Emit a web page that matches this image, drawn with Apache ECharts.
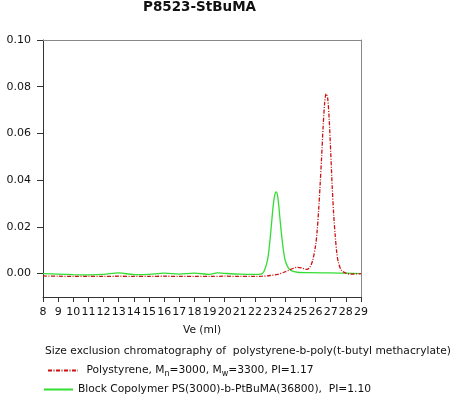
<!DOCTYPE html>
<html>
<head>
<meta charset="utf-8">
<script src="https://cdn.jsdelivr.net/npm/echarts@6/dist/echarts.min.js"></script>
<style>
  html, body { margin: 0; padding: 0; background: #fff; }
  #chart { width: 459px; height: 397px; }
</style>
</head>
<body>
<div id="chart"></div>
<script>
// elution volume (ml) and detector response
const psVe = [8, 9, 10, 11, 12, 13, 14, 15, 16, 17, 18, 19, 20, 21, 22, 22.5, 23, 23.5, 24, 24.5, 24.8, 25.1, 25.4, 25.6, 25.8, 26.0, 26.1, 26.2, 26.3, 26.4, 26.5, 26.6, 26.7, 26.8, 26.9, 27.0, 27.1, 27.2, 27.3, 27.4, 27.5, 27.7, 28.0, 28.3, 29]
const psResp = [-0.0010, -0.0011, -0.0012, -0.0012, -0.0012, -0.0011, -0.0012, -0.0012, -0.0011, -0.0012, -0.0012, -0.0012, -0.0011, -0.0012, -0.0012, -0.0011, -0.0008, -0.0003, 0.0008, 0.0022, 0.0027, 0.0024, 0.0018, 0.0025, 0.0055, 0.012, 0.018, 0.027, 0.038, 0.050, 0.063, 0.073, 0.077, 0.075, 0.066, 0.052, 0.037, 0.025, 0.016, 0.009, 0.005, 0.0015, 0.0002, -0.0002, 0.0000]

const bcVe = [8, 9, 10, 11, 12, 13, 14, 15, 16, 17, 18, 19, 19.5, 20, 21, 22, 22.4, 22.6, 22.8, 22.9, 23.0, 23.1, 23.2, 23.3, 23.4, 23.5, 23.6, 23.7, 23.8, 23.9, 24.0, 24.2, 24.4, 24.8, 25.5, 27, 28, 29]
const bcResp = [0.0000, -0.0002, -0.0004, -0.0005, -0.0003, 0.0003, -0.0004, -0.0003, 0.0002, -0.0002, 0.0002, -0.0003, 0.0003, 0.0001, -0.0002, -0.0003, -0.0002, 0.0010, 0.0050, 0.0090, 0.015, 0.022, 0.029, 0.0335, 0.035, 0.033, 0.027, 0.020, 0.014, 0.009, 0.0055, 0.0025, 0.0013, 0.0006, 0.0004, 0.0003, 0.0002, 0.0000]

const xTicks = [8, 9, 10, 11, 12, 13, 14, 15, 16, 17, 18, 19, 20, 21, 22, 23, 24, 25, 26, 27, 28, 29]
const yTicks = [0, 0.02, 0.04, 0.06, 0.08, 0.10]
const yMin = -0.01
const yMax = 0.10

const zip = (xs, ys) => xs.map((x, i) => [x, ys[i]])

const chart = echarts.init(document.getElementById('chart'), null, { renderer: 'canvas' })
const font = 'DejaVu Sans, sans-serif'
const ink = '#111'
const fs = 10.7

// 下标用的 rich 样式
const rich = {
  t: { fontSize: fs, color: ink, fontFamily: font },
  s: { fontSize: 8, color: ink, fontFamily: font, verticalAlign: 'bottom', padding: [6, 0, 0, 0] }
}

// 上边框 / 右边框：只画轴线的辅助轴
const frameAxis = {
  type: 'value',
  axisLine: { show: true, onZero: false, lineStyle: { color: '#888' } },
  axisTick: { show: false },
  axisLabel: { show: false },
  splitLine: { show: false }
}

chart.setOption({
  animation: false,
  backgroundColor: '#fff',
  textStyle: { fontFamily: font },
  title: {
    text: 'P8523-StBuMA',
    left: 143,
    top: 0,
    padding: 0,
    textStyle: { fontSize: 13.5, fontWeight: 'bold', color: ink, fontFamily: font }
  },
  grid: {
    left: 43, right: 98, top: 40, bottom: 100,
    show: false
  },
  xAxis: [
    {
      type: 'value',
      position: 'bottom',
      min: 8, max: 29, interval: 1,
      name: 'Ve (ml)',
      nameLocation: 'middle',
      nameGap: 28,
      nameTextStyle: { fontSize: fs, color: ink, fontFamily: font },
      axisLine: { show: true, onZero: false, lineStyle: { color: '#333' } },
      axisTick: { show: true, inside: false, length: 5, lineStyle: { color: '#333' }, customValues: xTicks },
      axisLabel: { fontSize: 11, color: ink, margin: 10, fontFamily: font, customValues: xTicks },
      splitLine: { show: false },
      z: 10
    },
    Object.assign({ position: 'top', min: 8, max: 29 }, frameAxis)
  ],
  yAxis: [
    {
      type: 'value',
      position: 'left',
      min: yMin, max: yMax,
      axisLine: { show: true, onZero: false, lineStyle: { color: '#333' } },
      axisTick: { show: true, length: 6, lineStyle: { color: '#333' }, customValues: yTicks },
      axisLabel: {
        fontSize: 11, color: ink, margin: 12, fontFamily: font,
        customValues: yTicks,
        formatter: v => v.toFixed(2)
      },
      splitLine: { show: false }
    },
    Object.assign({ position: 'right', min: yMin, max: yMax }, frameAxis)
  ],
  legend: [
    {
      left: 47, top: 365, padding: 0,
      itemWidth: 30, itemHeight: 8,
      itemStyle: { opacity: 0 },
      textStyle: { rich },
      formatter: () => '{t| Polystyrene, M}{s|n}{t|=3000, M}{s|w}{t|=3300, PI=1.17}',
      data: ['ps']
    },
    {
      left: 43, top: 384, padding: 0,
      itemWidth: 29, itemHeight: 8,
      itemStyle: { opacity: 0 },
      textStyle: { rich },
      formatter: () => '{t|Block Copolymer PS(3000)-b-PtBuMA(36800),  PI=1.10}',
      data: ['bc']
    }
  ],
  graphic: [{
    type: 'text',
    left: 45,
    top: 346,
    style: {
      text: 'Size exclusion chromatography of  polystyrene-b-poly(t-butyl methacrylate)',
      fontSize: fs, fill: ink, fontFamily: font
    }
  }],
  series: [
    {
      name: 'bc',
      type: 'line',
      data: zip(bcVe, bcResp),
      smooth: 0.3,
      symbol: 'none',
      lineStyle: { color: '#33dd33', width: 1.3 },
      itemStyle: { color: '#33dd33' }
    },
    {
      name: 'ps',
      type: 'line',
      data: zip(psVe, psResp),
      smooth: 0.3,
      symbol: 'none',
      lineStyle: { color: '#cc1111', width: 1.3, type: [4, 1.5, 1, 1.5] },
      itemStyle: { color: '#cc1111' }
    }
  ]
})
</script>
</body>
</html>
